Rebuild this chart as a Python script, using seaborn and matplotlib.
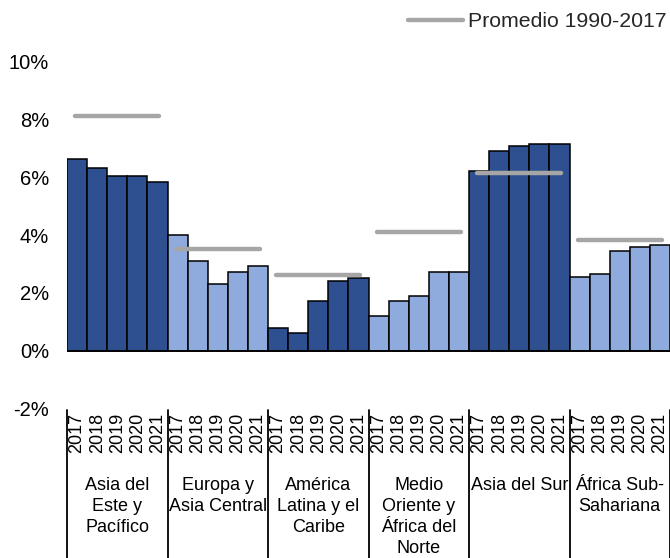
import matplotlib
matplotlib.use("Agg")
import matplotlib.pyplot as plt
import matplotlib.transforms as mtransforms
from matplotlib.lines import Line2D
from matplotlib.ticker import FuncFormatter
import pandas as pd
import seaborn as sns

# Regional growth, 2017-2021, with the 1990-2017 average per region
regions = ["Asia del\nEste y\nPacífico", "Europa y\nAsia Central", "América\nLatina y el\nCaribe",
           "Medio\nOriente y\nÁfrica del\nNorte", "Asia del Sur", "África Sub-\nSahariana"]
years = ["2017", "2018", "2019", "2020", "2021"]
asia_este = [6.63, 6.33, 6.03, 6.03, 5.83]
europa = [4.01, 3.11, 2.31, 2.71, 2.92]
america_latina = [0.80, 0.60, 1.71, 2.41, 2.50]
medio_oriente = [1.20, 1.71, 1.90, 2.71, 2.71]
asia_sur = [6.22, 6.91, 7.09, 7.15, 7.16]
africa_sub = [2.56, 2.66, 3.44, 3.60, 3.67]
promedio = [8.13, 3.52, 2.62, 4.12, 6.16, 3.84]

series = [asia_este, europa, america_latina, medio_oriente, asia_sur, africa_sub]
rows = []
for r, vals in zip(regions, series):
    for y, v in zip(years, vals):
        rows.append({"region": r, "year": y, "key": f"{r}|{y}", "value": v})
df = pd.DataFrame(rows)

sns.set_theme(style="white")
plt.rcParams["font.family"] = ["Liberation Sans", "DejaVu Sans"]

dark, light = "#2F5090", "#8FAADC"
palette = {r: (dark if i % 2 == 0 else light) for i, r in enumerate(regions)}

fig = plt.figure(figsize=(6.70, 5.58), dpi=100)
ax = fig.add_axes([67 / 670, 1 - 408.5 / 558, 1 - 67 / 670, (408.5 - 61.7) / 558])

sns.barplot(data=df, x="key", y="value", hue="region", palette=palette, dodge=False,
            width=1.0, saturation=1, edgecolor="black", linewidth=1.1, legend=False,
            ax=ax, zorder=2)

# Average lines spanning each regional group
for i, avg in enumerate(promedio):
    ax.hlines(avg, 5 * i - 0.1, 5 * i + 4.1, color="#A6A6A6", linewidth=3.2,
              capstyle="round", zorder=3)

ax.axhline(0, color="black", linewidth=1.3, zorder=4)

ax.set_ylim(-2, 10)
ax.set_xlim(-0.5, len(df) - 0.5)
ax.set_yticks(range(-2, 11, 2))
ax.yaxis.set_major_formatter(FuncFormatter(lambda v, p: f"{v:.0f}%"))
ax.tick_params(axis="y", length=0, pad=13, labelsize=14.5, colors="black")
ax.set_xticks(range(len(df)))
ax.set_xticklabels(df["year"], rotation=90, fontsize=13)
ax.tick_params(axis="x", length=0, pad=3, colors="black")
for lbl in ax.get_xticklabels():
    lbl.set_verticalalignment("top")
ax.set_xlabel("")
ax.set_ylabel("")
for s in ax.spines.values():
    s.set_visible(False)

# Group names and separators under the year labels
trans = mtransforms.blended_transform_factory(ax.transData, fig.transFigure)
for i, r in enumerate(regions):
    ax.text(5 * i + 2, 1 - 477 / 558, r, transform=trans, ha="center", va="top",
            fontsize=13, linespacing=1.3, color="black")
for i in range(len(regions) + 1):
    ax.plot([5 * i - 0.5, 5 * i - 0.5], [1 - 410 / 558, 0], transform=trans,
            color="black", linewidth=1.3, clip_on=False)

handle = Line2D([], [], color="#A6A6A6", linewidth=3.2, solid_capstyle="round")
fig.legend([handle], ["Promedio 1990-2017"], loc="center left",
           bbox_to_anchor=(408 / 670, 1 - 21.5 / 558), frameon=False, fontsize=15.3,
           borderpad=0, borderaxespad=0, handlelength=2.6, handletextpad=0.2)

fig.savefig("out.png", dpi=100)
